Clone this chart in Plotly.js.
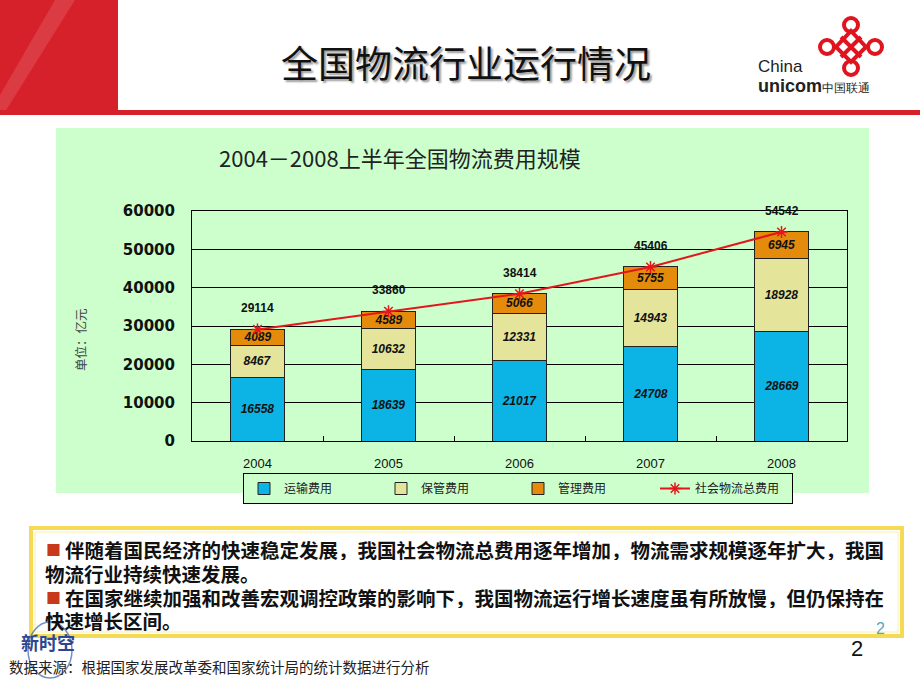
<!DOCTYPE html>
<html>
<head>
<meta charset="utf-8">
<script src="https://cdn.plot.ly/plotly-3.0.1.min.js"></script>
<style>html,body{margin:0;padding:0;background:#fff;}#chart{width:920px;height:690px;}</style>
</head>
<body>
<div id="chart"></div>
<script>
// ---- data ----
const years = ['2004', '2005', '2006', '2007', '2008'];
const transport = [16558, 18639, 21017, 24708, 28669];
const storage = [8467, 10632, 12331, 14943, 18928];
const management = [4089, 4589, 5066, 5755, 6945];
const total = [29114, 33860, 38414, 45406, 54542];
const seriesNames = ['运输费用', '保管费用', '管理费用', '社会物流总费用'];
const yTicks = [0, 10000, 20000, 30000, 40000, 50000, 60000];
const chartTitle = '2004－2008上半年全国物流费用规模';
const slideTitle = '全国物流行业运行情况';
const unitLabel = '单位：亿元';
const bodyLines = [
  '伴随着国民经济的快速稳定发展，我国社会物流总费用逐年增加，物流需求规模逐年扩大，我国',
  '物流行业持续快速发展。',
  '在国家继续加强和改善宏观调控政策的影响下，我国物流运行增长速度虽有所放慢，但仍保持在',
  '快速增长区间。'
];
const bulletLines = [0, 2];
const sourceNote = '数据来源：根据国家发展改革委和国家统计局的统计数据进行分析';

// ---- pixel helpers (plot area in page pixels) ----
const L = 192, R = 847, T = 211, B = 441;
const px = x => (x - L) / (R - L);
const py = y => (B - y) / (B - T);

const CJK = '"Noto Sans CJK SC", "Noto Sans", sans-serif';
const SANS = '"Liberation Sans", Arial, sans-serif';

const segFont = {family: SANS, size: 12, weight: 'bold', style: 'italic', color: '#111'};

const traces = [
  {type: 'bar', name: seriesNames[0], x: years, y: transport, text: transport.map(String),
   textposition: 'inside', insidetextanchor: 'middle', constraintext: 'none', textangle: 0,
   textfont: segFont, marker: {color: '#0BB4E4', line: {color: '#222', width: 1}}, hoverinfo: 'none'},
  {type: 'bar', name: seriesNames[1], x: years, y: storage, text: storage.map(String),
   textposition: 'inside', insidetextanchor: 'middle', constraintext: 'none', textangle: 0,
   textfont: segFont, marker: {color: '#E4E49A', line: {color: '#222', width: 1}}, hoverinfo: 'none'},
  {type: 'bar', name: seriesNames[2], x: years, y: management, text: management.map(String),
   textposition: 'inside', insidetextanchor: 'middle', constraintext: 'none', textangle: 0,
   textfont: segFont, marker: {color: '#E58B0C', line: {color: '#222', width: 1}}, hoverinfo: 'none'},
  {type: 'scatter', mode: 'lines+markers', name: seriesNames[3], x: years, y: total,
   line: {color: '#E3161B', width: 2},
   marker: {symbol: 'asterisk-open', size: 10, color: '#E3161B', line: {color: '#E3161B', width: 1.5}},
   hoverinfo: 'none'}
];

const annotations = [];
// totals above bars (category axis: position by category index)
years.forEach((yr, i) => {
  annotations.push({x: i, y: total[i], xref: 'x', yref: 'y', text: String(total[i]),
    showarrow: false, yanchor: 'bottom', yshift: 12,
    font: {family: SANS, size: 12, weight: 'bold', color: '#111'}});
});
// slide title
annotations.push({x: px(466), y: py(62), xref: 'paper', yref: 'paper', text: slideTitle, showarrow: false,
  xanchor: 'center', yanchor: 'middle',
  font: {family: CJK, size: 37, color: '#111', shadow: '2px 2px 2px #9a9a9a'}});
// chart title
annotations.push({x: px(400), y: py(157), xref: 'paper', yref: 'paper', text: chartTitle, showarrow: false,
  xanchor: 'center', yanchor: 'middle', font: {family: CJK, size: 22, color: '#222'}});
// unit label
annotations.push({x: px(80), y: py(340), xref: 'paper', yref: 'paper', text: unitLabel, showarrow: false,
  textangle: -90, xanchor: 'center', yanchor: 'middle', font: {family: CJK, size: 12.5, color: '#444'}});
// body text (one block, bullets as separate small marks)
const bodyText = bodyLines.map((t, i) => (bulletLines.includes(i) ? '' : '') + t).join('<br>');
const lineY = [549, 573, 597, 620];
bulletLines.forEach(i => {
  annotations.push({x: px(44), y: py(lineY[i]), xref: 'paper', yref: 'paper', text: '■', showarrow: false,
    xanchor: 'left', yanchor: 'middle', font: {family: CJK, size: 15, color: '#C8381A'}});
});
// lines with bullets start after the bullet; continuation lines start at left edge
bodyLines.forEach((t, i) => {
  const hasBullet = bulletLines.includes(i);
  annotations.push({x: px(hasBullet ? 63 : 43), y: py(lineY[i]), xref: 'paper', yref: 'paper', text: t,
    showarrow: false, xanchor: 'left', yanchor: 'middle', height: 22,
    font: {family: CJK, size: 19.5, weight: 'bold', color: '#111'}});
});
// source note
annotations.push({x: px(7), y: py(666), xref: 'paper', yref: 'paper', text: sourceNote, showarrow: false,
  xanchor: 'left', yanchor: 'middle', font: {family: CJK, size: 14.5, color: '#222'}});
// page numbers
annotations.push({x: px(857), y: py(648), xref: 'paper', yref: 'paper', text: '2', showarrow: false,
  xanchor: 'center', yanchor: 'middle', font: {family: SANS, size: 22, color: '#111'}});
annotations.push({x: px(880), y: py(628), xref: 'paper', yref: 'paper', text: '2', showarrow: false,
  xanchor: 'center', yanchor: 'middle', font: {family: SANS, size: 16, color: '#5AA7B8'}});
// 新时空 logo
annotations.push({x: px(48), y: py(642), xref: 'paper', yref: 'paper', text: '新时空', showarrow: false,
  xanchor: 'center', yanchor: 'middle', height: 20, font: {family: CJK, size: 18, weight: 'bold', color: '#2E4790'}});
// China Unicom logo text
annotations.push({x: px(756), y: py(66), xref: 'paper', yref: 'paper', text: 'China', showarrow: false,
  xanchor: 'left', yanchor: 'middle', font: {family: SANS, size: 17, color: '#222'}});
annotations.push({x: px(756), y: py(86), xref: 'paper', yref: 'paper',
  text: '<b>unicom</b><span style="font-size:12px">中国联通</span>', showarrow: false,
  xanchor: 'left', yanchor: 'middle', font: {family: SANS, size: 18, color: '#222'}});

const red = '#D6202A';
const shapes = [
  {type: 'rect', xref: 'paper', yref: 'paper', x0: px(0), x1: px(118), y0: py(0), y1: py(111), fillcolor: red, line: {width: 0}, layer: 'below'},
  {type: 'path', xref: 'paper', yref: 'paper', path: `M ${px(0)} ${py(95)} L ${px(55)} ${py(0)} L ${px(75)} ${py(0)} L ${px(0)} ${py(120)} Z`, fillcolor: 'rgba(255,255,255,0.12)', line: {width: 0}, layer: 'below'},
  {type: 'rect', xref: 'paper', yref: 'paper', x0: px(0), x1: px(920), y0: py(110), y1: py(115), fillcolor: red, line: {width: 0}, layer: 'below'},
  {type: 'rect', xref: 'paper', yref: 'paper', x0: px(56), x1: px(869), y0: py(128), y1: py(493), fillcolor: '#CCFFCC', line: {width: 0}, layer: 'below'},
  {type: 'rect', xref: 'paper', yref: 'paper', x0: px(31), x1: px(902), y0: py(528), y1: py(636), fillcolor: 'rgba(255,255,255,0)', line: {color: '#F4DA55', width: 4}, layer: 'below'},
  {type: 'rect', xref: 'paper', yref: 'paper', x0: px(35), x1: px(898), y0: py(532), y1: py(632), fillcolor: 'rgba(255,255,255,0)', line: {color: '#FBEFA8', width: 1}, layer: 'below'},
  // 新时空 arc
  {type: 'circle', xref: 'paper', yref: 'paper', x0: px(28), x1: px(72), y0: py(622), y1: py(678), line: {color: 'rgba(60,100,170,0.7)', width: 1.5}, layer: 'below'},
  // unicom knot
  {type: 'circle', xref: 'paper', yref: 'paper', x0: px(844), x1: px(858), y0: py(18), y1: py(32), line: {color: '#E0141E', width: 4}},
  {type: 'circle', xref: 'paper', yref: 'paper', x0: px(844), x1: px(858), y0: py(61), y1: py(75), line: {color: '#E0141E', width: 4}},
  {type: 'circle', xref: 'paper', yref: 'paper', x0: px(820), x1: px(834), y0: py(40), y1: py(54), line: {color: '#E0141E', width: 4}},
  {type: 'circle', xref: 'paper', yref: 'paper', x0: px(868), x1: px(882), y0: py(40), y1: py(54), line: {color: '#E0141E', width: 4}},
  {type: 'path', xref: 'paper', yref: 'paper', path: `M ${px(851)} ${py(31)} L ${px(866)} ${py(47)} L ${px(851)} ${py(62)} L ${px(836)} ${py(47)} Z`, line: {color: '#E0141E', width: 4}},
  {type: 'path', xref: 'paper', yref: 'paper', path: `M ${px(841)} ${py(37)} L ${px(861)} ${py(57)} M ${px(861)} ${py(37)} L ${px(841)} ${py(57)}`, line: {color: '#E0141E', width: 4}}
];

const layout = {
  width: 920, height: 690,
  margin: {l: L, r: 920 - R, t: T, b: 690 - B, pad: 0},
  paper_bgcolor: '#ffffff', plot_bgcolor: '#CCFFCC',
  barmode: 'stack', bargap: 0.59,
  showlegend: true,
  legend: {orientation: 'h', x: px(243), y: py(473), xanchor: 'left', yanchor: 'top',
    bgcolor: '#CCFFCC', bordercolor: '#000', borderwidth: 1, traceorder: 'normal',
    font: {family: CJK, size: 12, color: '#222'}, entrywidth: 92, entrywidthmode: 'pixels'},
  xaxis: {type: 'category', range: [-0.5, 4.5], showline: true, linecolor: '#000', linewidth: 1, mirror: true,
    ticks: 'inside', tickson: 'boundaries', ticklen: 5, tickcolor: '#000',
    ticklabelstandoff: 10, tickfont: {family: SANS, size: 13, color: '#111'}, fixedrange: true},
  yaxis: {range: [0, 60000], tickvals: yTicks, ticktext: yTicks.map(String),
    showgrid: true, gridcolor: '#000', gridwidth: 1, zeroline: false,
    showline: true, linecolor: '#000', linewidth: 1, mirror: true, ticks: '',
    ticklabelstandoff: 13, tickfont: {family: '"DejaVu Sans", sans-serif', size: 15, weight: 'bold', color: '#111'}},
  annotations: annotations,
  shapes: shapes
};

Plotly.newPlot('chart', traces, layout, {displayModeBar: false, staticPlot: true});
</script>
</body>
</html>
